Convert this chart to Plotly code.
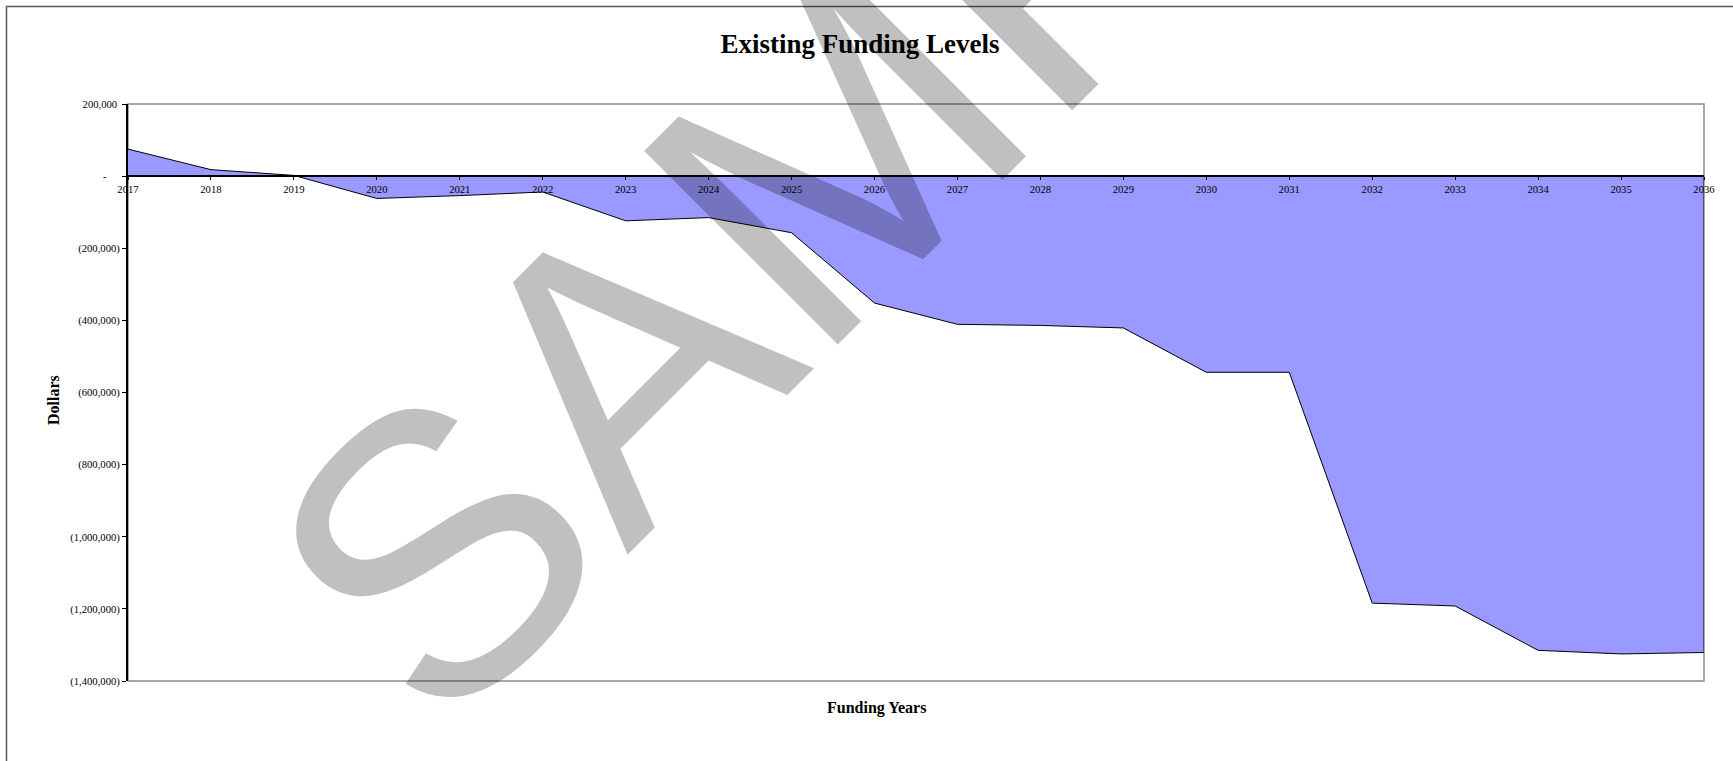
import plotly.graph_objects as go

# Funding balance per year (dollars)
years = [2017, 2018, 2019, 2020, 2021, 2022, 2023, 2024, 2025, 2026,
         2027, 2028, 2029, 2030, 2031, 2032, 2033, 2034, 2035, 2036]
balance = [75000, 18000, 2000, -62000, -54000, -44000, -124000, -115000,
           -157000, -352000, -411000, -414000, -421000, -544000, -544000,
           -1184000, -1192000, -1315000, -1325000, -1321000]

y_tick_values = [200000, 0, -200000, -400000, -600000, -800000,
                 -1000000, -1200000, -1400000]
y_tick_labels = ["200,000\u2008", "-\u2007\u2007\u2008", "(200,000)", "(400,000)",
                 "(600,000)", "(800,000)", "(1,000,000)", "(1,200,000)",
                 "(1,400,000)"]

title_text = "Existing Funding Levels"
x_title = "Funding Years"
y_title = "Dollars"
watermark = "SAMPLE"

# Canvas and plot-area geometry (pixels)
W, H = 1733, 761
L, R, T, B = 128, 29, 104, 80
PW, PH = W - L - R, H - T - B


def px_x(px):
    return (px - L) / PW


def px_y(py):
    return (H - B - py) / PH


y_min, y_max = -1400000, 200000
serif = "Liberation Serif"

fig = go.Figure()

# Closed area between the balance curve and the zero baseline
fig.add_trace(go.Scatter(
    x=years + [years[-1], years[0]],
    y=balance + [0, 0],
    mode="lines",
    fill="toself",
    fillcolor="#9999FF",
    line=dict(color="black", width=1),
    hoverinfo="skip",
    showlegend=False,
))

fig.update_layout(
    width=W, height=H,
    margin=dict(l=L, r=R, t=T, b=B, autoexpand=False),
    paper_bgcolor="white",
    plot_bgcolor="white",
    showlegend=False,
    title=dict(
        text=title_text,
        font=dict(family=serif, size=27, color="black", weight="bold"),
        xref="container", yref="container",
        x=860 / W, y=1 - 44 / H,
        xanchor="center", yanchor="middle",
    ),
    xaxis=dict(
        range=[years[0], years[-1]],
        tickmode="array",
        tickvals=years,
        ticktext=[str(y) for y in years],
        anchor="free",
        position=(0 - y_min) / (y_max - y_min),
        showline=True, linecolor="black", linewidth=2,
        ticks="outside", ticklen=3, tickwidth=1, tickcolor="black",
        showgrid=False, zeroline=False,
        tickfont=dict(family=serif, size=10.67, color="black"),
    ),
    yaxis=dict(
        range=[y_min, y_max],
        tickmode="array",
        tickvals=y_tick_values,
        ticktext=y_tick_labels,
        showline=True, linecolor="black", linewidth=2,
        ticks="outside", ticklen=4, tickwidth=1, tickcolor="black",
        showgrid=False, zeroline=False,
        tickfont=dict(family=serif, size=10.67, color="black"),
    ),
    shapes=[
        # plot-area frame
        dict(type="rect", xref="paper", yref="paper",
             x0=0, x1=1, y0=0, y1=1,
             line=dict(color="#8c8c8c", width=1.5), layer="below"),
        # outer chart frame
        dict(type="rect", xref="paper", yref="paper",
             x0=px_x(6.5), x1=px_x(W + 20), y0=px_y(H + 20), y1=px_y(6.5),
             line=dict(color="#5a5a5a", width=1.5), layer="below"),
    ],
    annotations=[
        dict(text=y_title, xref="paper", yref="paper",
             x=px_x(53), y=px_y(400), textangle=-90,
             xanchor="center", yanchor="middle", showarrow=False,
             font=dict(family=serif, size=16, color="black", weight="bold")),
        dict(text=x_title, xref="paper", yref="paper",
             x=px_x(876), y=px_y(708),
             xanchor="center", yanchor="middle", showarrow=False,
             font=dict(family=serif, size=16, color="black", weight="bold")),
        # diagonal watermark
        dict(text=watermark, xref="paper", yref="paper",
             x=px_x(912), y=px_y(74.5), textangle=-45,
             xanchor="center", yanchor="middle", showarrow=False,
             font=dict(family="Liberation Sans", size=398,
                       color="rgba(0,0,0,0.247)")),
    ],
)

fig.write_html("out.html")
